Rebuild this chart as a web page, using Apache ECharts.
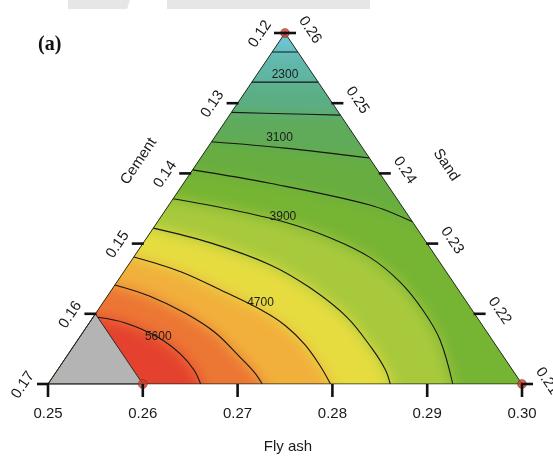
<!DOCTYPE html>
<html>
<head>
<meta charset="utf-8">
<title>Mixture contour plot</title>
<script src="https://cdn.jsdelivr.net/npm/echarts/dist/echarts.min.js"></script>
<style>
  html, body { margin: 0; padding: 0; background: #ffffff; }
  #wrap { position: relative; width: 553px; height: 459px; overflow: hidden; }
  #fill, #main { position: absolute; left: 0; top: 0; width: 553px; height: 459px; }
  #fill { filter: blur(7px); }
</style>
</head>
<body>
<div id="wrap"><div id="fill"></div><div id="main"></div></div>
<script>
// ---- mixture space: cement + sand + fly ash = 0.63 ----
const TOTAL = 0.63;
const flyAshTicks = [0.25, 0.26, 0.27, 0.28, 0.29, 0.30];
const cementTicks = [0.12, 0.13, 0.14, 0.15, 0.16, 0.17];
const sandTicks = [0.26, 0.25, 0.24, 0.23, 0.22, 0.21];

// contour levels and the ones that carry a label
const levels = [1900, 2300, 2700, 3100, 3500, 3900, 4300, 4700, 5100, 5600];
const labelledLevels = [2300, 3100, 3900, 4700, 5600];

// contour paths, each point is [fly ash, sand]; cement = TOTAL - fly ash - sand
const contour1900 = [[0.2500, 0.2573], [0.2527, 0.2573]];
const contour2300 = [[0.2500, 0.2530], [0.2570, 0.2530]];
const contour2700 = [[0.2500, 0.2487], [0.2557, 0.2485], [0.2617, 0.2483]];
const contour3100 = [[0.2500, 0.2445], [0.2582, 0.2436], [0.2678, 0.2422]];
const contour3500 = [[0.2500, 0.2405], [0.2591, 0.2386], [0.2712, 0.2355], [0.2769, 0.2331]];
const contour3900 = [[0.2500, 0.2364], [0.2567, 0.2349], [0.2633, 0.2331], [0.2694, 0.2308], [0.2750, 0.2280],
                     [0.2799, 0.2245], [0.2843, 0.2205], [0.2882, 0.2163], [0.2927, 0.2100]];
const contour4300 = [[0.2500, 0.2322], [0.2571, 0.2301], [0.2649, 0.2270], [0.2708, 0.2237], [0.2768, 0.2195],
                     [0.2816, 0.2151], [0.2846, 0.2120], [0.2861, 0.2100]];
const contour4700 = [[0.2500, 0.2281], [0.2560, 0.2260], [0.2621, 0.2231], [0.2673, 0.2205], [0.2709, 0.2183],
                     [0.2743, 0.2156], [0.2773, 0.2127], [0.2798, 0.2100]];
const contour5100 = [[0.2500, 0.2241], [0.2545, 0.2225], [0.2594, 0.2201], [0.2640, 0.2173], [0.2680, 0.2141],
                     [0.2709, 0.2117], [0.2726, 0.2100]];
const contour5600 = [[0.2505, 0.2195], [0.2538, 0.2187], [0.2582, 0.2167], [0.2618, 0.2143], [0.2644, 0.2120],
                     [0.2661, 0.2100]];
const contours = [contour1900, contour2300, contour2700, contour3100, contour3500,
                  contour3900, contour4300, contour4700, contour5100, contour5600];

// region outside the constraint (cement above 0.16)
const excludedRegion = [[0.25, 0.21], [0.25, 0.22], [0.26, 0.21]];
// design vertices marked in red
const designPoints = [[0.25, 0.26], [0.30, 0.21], [0.26, 0.21]];
// simplex vertices: cement corner, fly ash corner, sand corner
const simplex = [[0.25, 0.21], [0.30, 0.21], [0.25, 0.26]];

// ---- styling ----
const bandColors = ['#6ec4d2', '#60b7a8', '#5bae84', '#5fab5a', '#67ad40', '#76b433',
                    '#a8c93c', '#e6dc40', '#f1b03c', '#ec7634', '#e4422e'];
const FONT = '"Liberation Sans", Arial, sans-serif';
const labelLayout = { 2300: [0.5, -7], 3100: [0.43, -10], 3900: [0.31, -5], 4700: [0.57, -7], 5600: [0.5, -1] };

// ternary projection to a unit plotting frame
const project = ([f, s]) => [(f - 0.25) / 0.05 + (s - 0.21) / 0.1, (s - 0.21) / 0.05];

const grid = { left: 48, top: 33, width: 474, height: 351 };
const xAxis = { type: 'value', min: 0, max: 1, show: false };
const yAxis = { type: 'value', min: 0, max: 1, show: false };

function extend(p, q, d) {
  const dx = p[0] - q[0], dy = p[1] - q[1];
  const L = Math.hypot(dx, dy) || 1;
  return [p[0] + dx / L * d, p[1] + dy / L * d];
}

// ---- filled response surface (blurred underneath, clipped to the simplex) ----
function renderFill(params, api) {
  const lo = api.coord([-0.3, -0.3]), hi = api.coord([1.3, 1.3]);
  const left = lo[0], bottom = lo[1], right = hi[0], top = hi[1];
  const children = [{
    type: 'rect', shape: { x: left, y: top, width: right - left, height: bottom - top },
    style: { fill: bandColors[0] }
  }];
  contours.forEach((path, k) => {
    const pts = path.map(p => api.coord(project(p)));
    const a = extend(pts[0], pts[1], 30);
    const e = extend(pts[pts.length - 1], pts[pts.length - 2], 30);
    const endsOnBase = path[path.length - 1][1] <= 0.2101;
    const poly = [[left, a[1]], a].concat(pts, [e]);
    if (endsOnBase) {
      poly.push([e[0], bottom]);
    } else {
      poly.push([right, e[1]]);
      poly.push([right, bottom]);
    }
    poly.push([left, bottom]);
    children.push({ type: 'polygon', shape: { points: poly }, style: { fill: bandColors[k + 1] } });
  });
  return { type: 'group', children };
}

const fillDiv = document.getElementById('fill');
const fillChart = echarts.init(fillDiv, null, { renderer: 'canvas' });
fillChart.setOption({
  animation: false,
  grid, xAxis, yAxis,
  series: [{ type: 'custom', coordinateSystem: 'cartesian2d', clip: false, silent: true,
             data: [project(simplex[0])], renderItem: renderFill }]
});
const corners = simplex.map(p => fillChart.convertToPixel({ gridIndex: 0 }, project(p)));
fillDiv.style.clipPath = 'polygon(' + corners.map(c => c[0] + 'px ' + c[1] + 'px').join(', ') + ')';

// ---- ticks, tick labels, contour labels, titles ----
const tickItems = [];
cementTicks.forEach(c => tickItems.push({ p: [0.25, +(TOTAL - 0.25 - c).toFixed(4)], side: 'left', text: c.toFixed(2) }));
sandTicks.forEach(s => tickItems.push({ p: [+(TOTAL - 0.12 - s).toFixed(4), s], side: 'right', text: s.toFixed(2) }));
flyAshTicks.forEach(f => tickItems.push({ p: [f, 0.21], side: 'bottom', text: f.toFixed(2) }));

function edgeAngle(api) {
  const bl = api.coord(project(simplex[0])), ap = api.coord(project(simplex[2]));
  return Math.atan2(bl[1] - ap[1], ap[0] - bl[0]);
}

function renderTick(params, api) {
  const t = tickItems[params.dataIndex];
  const [x, y] = api.coord([api.value(0), api.value(1)]);
  const rot = edgeAngle(api);
  let shape, tx, ty, r;
  if (t.side === 'left') { shape = { x1: x - 11, y1: y, x2: x + 1, y2: y }; tx = x - 25; ty = y + 1; r = rot; }
  else if (t.side === 'right') { shape = { x1: x - 1, y1: y, x2: x + 11, y2: y }; tx = x + 25; ty = y - 3; r = -rot; }
  else { shape = { x1: x, y1: y, x2: x, y2: y + 13 }; tx = x; ty = y + 30; r = 0; }
  return { type: 'group', children: [
    { type: 'line', shape, style: { stroke: '#111', lineWidth: 2.6 } },
    { type: 'text', x: tx, y: ty, rotation: r,
      style: { text: t.text, font: '15px ' + FONT, fill: '#1a1a1a', align: 'center', verticalAlign: 'middle' } }
  ] };
}

function pointAlong(pts, frac) {
  const seg = [];
  let total = 0;
  for (let i = 1; i < pts.length; i++) {
    const d = Math.hypot(pts[i][0] - pts[i - 1][0], pts[i][1] - pts[i - 1][1]);
    seg.push(d); total += d;
  }
  let target = total * frac;
  for (let i = 0; i < seg.length; i++) {
    if (target <= seg[i]) {
      const u = target / seg[i];
      return [pts[i][0] + (pts[i + 1][0] - pts[i][0]) * u, pts[i][1] + (pts[i + 1][1] - pts[i][1]) * u];
    }
    target -= seg[i];
  }
  return pts[pts.length - 1];
}

function renderContourLabel(params, api) {
  const lv = labelledLevels[params.dataIndex];
  const path = contours[levels.indexOf(lv)].map(p => api.coord(project(p)));
  const [frac, dy] = labelLayout[lv];
  const pt = pointAlong(path, frac);
  return { type: 'text', x: pt[0], y: pt[1] + dy,
           style: { text: String(lv), font: '12px ' + FONT, fill: '#1c1c1c', align: 'center', verticalAlign: 'middle' } };
}

const titles = [
  { text: 'Cement', p: [0.25, +(TOTAL - 0.25 - 0.138).toFixed(4)], dx: -61, dy: 2, side: 'left' },
  { text: 'Sand', p: [+(TOTAL - 0.12 - 0.2412).toFixed(4), 0.2412], dx: 72, dy: 0, side: 'right' },
  { text: 'Fly ash', p: [0.275, 0.21], dx: 3, dy: 63, side: 'bottom' }
];
function renderTitle(params, api) {
  const t = titles[params.dataIndex];
  const [x, y] = api.coord([api.value(0), api.value(1)]);
  const rot = edgeAngle(api);
  const r = t.side === 'left' ? rot : t.side === 'right' ? -rot : 0;
  return { type: 'text', x: x + t.dx, y: y + t.dy, rotation: r,
           style: { text: t.text, font: '15px ' + FONT, fill: '#1a1a1a', align: 'center', verticalAlign: 'middle' } };
}

const mainChart = echarts.init(document.getElementById('main'), null, { renderer: 'canvas' });
mainChart.setOption({
  animation: false,
  backgroundColor: 'transparent',
  grid, xAxis, yAxis,
  graphic: [
    { type: 'polygon', shape: { points: [[68, 0], [130, 0], [127, 9], [68, 9]] }, style: { fill: '#e6e6e6' }, silent: true },
    { type: 'rect', shape: { x: 167, y: 0, width: 203, height: 9 }, style: { fill: '#e6e6e6' }, silent: true },
    { type: 'text', left: 38, top: 35,
      style: { text: '(a)', font: 'bold 20px "Liberation Serif", "Times New Roman", serif', fill: '#111' } }
  ],
  series: [
    { type: 'custom', coordinateSystem: 'cartesian2d', clip: false, silent: true, z: 1,
      data: [project(excludedRegion[0])],
      renderItem: (params, api) => ({ type: 'polygon',
        shape: { points: excludedRegion.map(p => api.coord(project(p))) },
        style: { fill: '#b4b4b4', stroke: '#2a2a2a', lineWidth: 1 } }) },
    ...contours.map((path, k) => ({
      type: 'line', name: String(levels[k]), data: path.map(project), smooth: 0.35,
      showSymbol: false, symbol: 'none', silent: true, z: 2,
      lineStyle: { color: '#161616', width: 1.1 }
    })),
    { type: 'line', data: simplex.concat([simplex[0]]).map(project), showSymbol: false, symbol: 'none',
      silent: true, z: 3, lineStyle: { color: '#1e2a18', width: 1 } },
    { type: 'scatter', data: designPoints.map(project), symbolSize: 9, silent: true, z: 4,
      itemStyle: { color: '#c8402e', borderColor: '#7a1a12', borderWidth: 0.5 } },
    { type: 'custom', coordinateSystem: 'cartesian2d', clip: false, silent: true, z: 5,
      data: tickItems.map(t => project(t.p)), renderItem: renderTick },
    { type: 'custom', coordinateSystem: 'cartesian2d', clip: false, silent: true, z: 5,
      data: labelledLevels.map(lv => project(contours[levels.indexOf(lv)][0])), renderItem: renderContourLabel },
    { type: 'custom', coordinateSystem: 'cartesian2d', clip: false, silent: true, z: 5,
      data: titles.map(t => project(t.p)), renderItem: renderTitle }
  ]
});
</script>
</body>
</html>
